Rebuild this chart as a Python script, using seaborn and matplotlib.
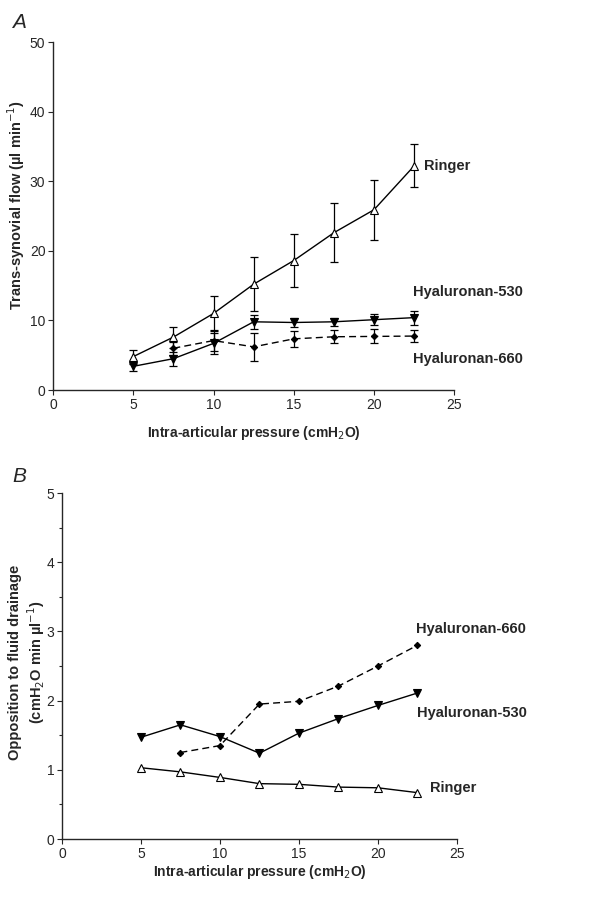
import matplotlib
matplotlib.use("Agg")
import matplotlib.pyplot as plt
import seaborn as sns
import numpy as np
import pandas as pd
from matplotlib.ticker import MultipleLocator

sns.set_style("ticks")
plt.rcParams['font.family'] = ['Liberation Sans', 'DejaVu Sans']

pressure = [5, 7.5, 10, 12.5, 15, 17.5, 20, 22.5]
pressure_660 = [7.5, 10, 12.5, 15, 17.5, 20, 22.5]

# Panel A: trans-synovial flow
flow_ringer = [4.8, 7.6, 11.0, 15.2, 18.6, 22.6, 25.9, 32.2]
flow_ringer_err = [1.0, 1.5, 2.5, 3.9, 3.8, 4.2, 4.3, 3.1]
flow_h530 = [3.4, 4.5, 6.7, 9.8, 9.7, 9.8, 10.1, 10.4]
flow_h530_err = [0.7, 1.0, 1.5, 1.0, 0.6, 0.6, 0.8, 1.0]
flow_h660 = [6.0, 7.1, 6.2, 7.35, 7.65, 7.7, 7.75]
flow_h660_err = [0.9, 1.5, 2.0, 1.1, 0.9, 1.0, 0.85]

# Panel B: opposition to fluid drainage
opp_ringer = [1.03, 0.97, 0.89, 0.80, 0.79, 0.75, 0.74, 0.67]
opp_h530 = [1.47, 1.65, 1.48, 1.24, 1.53, 1.74, 1.93, 2.11]
opp_h660 = [1.25, 1.35, 1.95, 1.99, 2.21, 2.50, 2.80]

fig = plt.figure(figsize=(6.13, 8.98), dpi=100)
axA = fig.add_axes([0.0865, 0.5657, 0.6545, 0.3875])
axB = fig.add_axes([0.101, 0.0657, 0.6445, 0.3853])

def draw(ax, x, y, marker, ls, fill, err=None, ms=5):
    df = pd.DataFrame({"x": x, "y": y})
    sns.lineplot(data=df, x="x", y="y", ax=ax, color="black", lw=1.0,
                 linestyle=ls, marker=marker, markersize=ms,
                 markerfacecolor=("white" if not fill else "black"),
                 markeredgecolor="black", markeredgewidth=0.8, zorder=3)
    if err is not None:
        ax.errorbar(x, y, yerr=err, fmt="none", ecolor="black", elinewidth=0.9,
                    capsize=3, capthick=0.9, zorder=2)

draw(axA, pressure, flow_ringer, "^", "-", False, flow_ringer_err, 5.5)
draw(axA, pressure, flow_h530, "v", "-", True, flow_h530_err, 5.5)
draw(axA, pressure_660, flow_h660, "D", (0, (5, 3)), True, flow_h660_err, 3.2)

draw(axB, pressure, opp_ringer, "^", "-", False, None, 5.5)
draw(axB, pressure, opp_h530, "v", "-", True, None, 5.5)
draw(axB, pressure_660, opp_h660, "D", (0, (5, 3)), True, None, 3.2)

for ax, pad in ((axA, 9), (axB, 1.5)):
    sns.despine(ax=ax)
    ax.set_xlim(0, 25)
    ax.xaxis.set_major_locator(MultipleLocator(5))
    ax.tick_params(axis="both", which="major", labelsize=10, length=3.5, width=0.8,
                   direction="out", pad=2)
    ax.tick_params(axis="both", which="minor", length=2.5, width=0.8, direction="out")
    ax.set_xlabel("Intra-articular pressure (cmH$_{2}$O)", fontsize=10, fontweight="bold", labelpad=pad)
    for s in ax.spines.values():
        s.set_linewidth(1.0)

axA.set_ylim(0, 50)
axA.yaxis.set_major_locator(MultipleLocator(10))
axA.set_ylabel("Trans-synovial flow (µl min$^{-1}$)", fontsize=10.5, fontweight="bold")
axA.yaxis.label.set_va("center")
axA.yaxis.set_label_coords(-0.092, 0.53)

axB.set_ylim(0, 5)
axB.yaxis.set_major_locator(MultipleLocator(1))
axB.yaxis.set_minor_locator(MultipleLocator(0.5))
axB.set_ylabel("Opposition to fluid drainage\n(cmH$_{2}$O min µl$^{-1}$)", fontsize=10.5,
               fontweight="bold", linespacing=1.2)
axB.yaxis.label.set_va("center")
axB.yaxis.set_label_coords(-0.087, 0.51)

kw = dict(fontsize=10.5, fontweight="bold", va="center", ha="left")
axA.text(23.1, 32.2, "Ringer", **kw)
axA.text(22.4, 14.1, "Hyaluronan-530", **kw)
axA.text(22.4, 4.5, "Hyaluronan-660", **kw)
axB.text(22.4, 3.03, "Hyaluronan-660", **kw)
axB.text(22.5, 1.82, "Hyaluronan-530", **kw)
axB.text(23.3, 0.73, "Ringer", **kw)

fig.text(12/613, 1 - 22/898, "A", fontsize=15, fontstyle="italic", va="center", ha="left")
fig.text(12/613, 1 - 477/898, "B", fontsize=15, fontstyle="italic", va="center", ha="left")

fig.savefig("out.png", dpi=100)
